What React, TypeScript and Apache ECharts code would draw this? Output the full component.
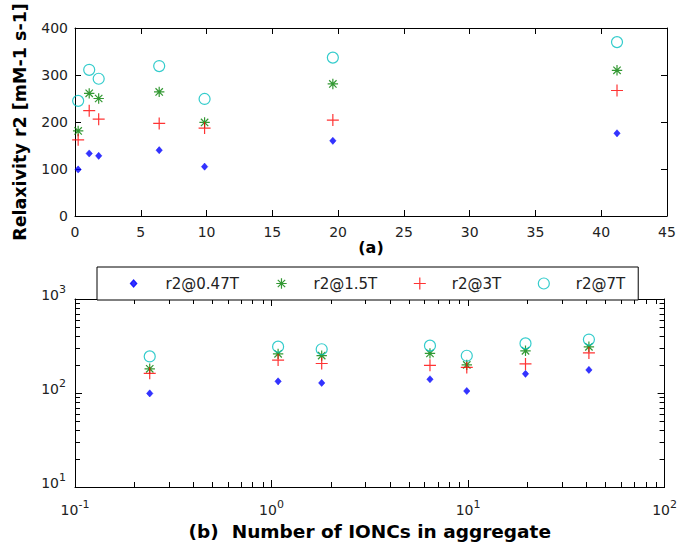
import React, { useEffect, useRef } from 'react';
import * as echarts from 'echarts';

// ---- data ----
const aggregateSizes = [0.24, 1.08, 1.8, 6.4, 9.85, 19.6, 41.2];
const r2At047T = [99, 133, 128, 140, 105, 160, 176];
const r2At15T = [181, 261, 250, 264, 199, 281, 310];
const r2At3T = [162, 224, 206, 197, 187, 204, 267];
const r2At7T = [245, 311, 292, 319, 249, 337, 370];
const seriesNames = ['r2@0.47T', 'r2@1.5T', 'r2@3T', 'r2@7T'];
const logXMinorTicks = [0.2, 0.3, 0.4, 0.5, 0.6, 0.7, 0.8, 0.9, 2, 3, 4, 5, 6, 7, 8, 9, 20, 30, 40, 50, 60, 70, 80, 90];
const logYMinorTicks = [20, 30, 40, 50, 60, 70, 80, 90, 200, 300, 400, 500, 600, 700, 800, 900];

const FONT = 'DejaVu Sans';
const TXT = '#222';

const SYM_DOT = 'path://M0,0M12,12M6,2.4L9.2,6L6,9.6L2.8,6Z';
const SYM_STAR = 'path://M0,0M12,12M6,0.8L6,11.2M0.8,6L11.2,6M2.3,2.3L9.7,9.7M9.7,2.3L2.3,9.7';
const SYM_PLUS = 'path://M6,0L6,12M0,6L12,6';
const SYM_CIRCLE = 'path://M0,0M12,12M11.5,6A5.5,5.5,0,1,1,0.5,6A5.5,5.5,0,1,1,11.5,6Z';

const seriesDefs = [
  { name: seriesNames[0], values: r2At047T, symbol: SYM_DOT, style: { color: '#0000ff', borderColor: '#0000ff', borderWidth: 0.5 } },
  { name: seriesNames[1], values: r2At15T, symbol: SYM_STAR, style: { color: 'rgba(0,0,0,0)', borderColor: '#008000', borderWidth: 1.2 } },
  { name: seriesNames[2], values: r2At3T, symbol: SYM_PLUS, style: { color: 'rgba(0,0,0,0)', borderColor: '#ff0000', borderWidth: 1.2 } },
  { name: seriesNames[3], values: r2At7T, symbol: SYM_CIRCLE, style: { color: 'rgba(0,0,0,0)', borderColor: '#00bfbf', borderWidth: 1.2 } },
];

const axisLine = { show: true, onZero: false, lineStyle: { color: '#000', width: 1 } };
const tickFont = { fontFamily: FONT, fontSize: 14, color: TXT };
const nameFont = { fontFamily: FONT, fontWeight: 'bold', color: '#000' };

const logLabel = (v: number) => `{b|10}{s|${Math.round(Math.log10(v))}}`;
const logRich = {
  b: { fontFamily: FONT, fontSize: 14, color: TXT, lineHeight: 18, verticalAlign: 'bottom' },
  s: { fontFamily: FONT, fontSize: 11, color: TXT, lineHeight: 12, verticalAlign: 'top' },
};

function minorTickRenderer(dir: 'x' | 'y') {
  return (params: any, api: any) => {
    const cs = params.coordSys;
    const p = api.coord([api.value(0), api.value(1)]);
    const L = 5;
    const st = { stroke: '#000', lineWidth: 1 };
    if (dir === 'x') {
      const px = Math.round(p[0]) + 0.5;
      const b = cs.y + cs.height;
      return {
        type: 'group',
        children: [
          { type: 'line', shape: { x1: px, y1: b, x2: px, y2: b - L }, style: st },
          { type: 'line', shape: { x1: px, y1: cs.y, x2: px, y2: cs.y + L }, style: st },
        ],
      };
    }
    const py = Math.round(p[1]) + 0.5;
    const r = cs.x + cs.width;
    return {
      type: 'group',
      children: [
        { type: 'line', shape: { x1: cs.x, y1: py, x2: cs.x + L, y2: py }, style: st },
        { type: 'line', shape: { x1: r, y1: py, x2: r - L, y2: py }, style: st },
      ],
    };
  };
}

export default function App() {
  const ref = useRef<HTMLDivElement>(null);
  useEffect(() => {
    if (!ref.current) return;
    document.body.style.margin = '0';
    const chart = echarts.init(ref.current, null, { renderer: 'svg' });

    const scatterSeries: any[] = [];
    [0, 1].forEach((g) => {
      seriesDefs.forEach((d) => {
        scatterSeries.push({
          type: 'scatter',
          name: d.name,
          xAxisIndex: g * 2,
          yAxisIndex: g * 2,
          data: aggregateSizes.map((x, i) => [x, d.values[i]]),
          symbol: d.symbol,
          symbolSize: 12,
          itemStyle: d.style,
          emphasis: { disabled: true },
          z: 5,
        });
      });
    });

    const option: any = {
      animation: false,
      backgroundColor: '#fff',
      grid: [
        { left: 75, top: 28, width: 592, height: 188, containLabel: false },
        { left: 75, top: 299, width: 592, height: 188, containLabel: false },
      ],
      legend: {
        left: 97,
        top: 267,
        orient: 'horizontal',
        data: seriesNames,
        itemWidth: 12,
        itemHeight: 12,
        itemGap: 36,
        padding: [9, 13, 9, 30],
        borderColor: '#000',
        borderWidth: 1,
        borderRadius: 0,
        backgroundColor: '#fff',
        selectedMode: false,
        itemStyle: { borderWidth: 1.2 },
        textStyle: { fontFamily: FONT, fontSize: 15, color: TXT, padding: [0, 0, 0, 21] },
        z: 10,
      },
      xAxis: [
        {
          gridIndex: 0, type: 'value', min: 0, max: 45, interval: 5, position: 'bottom',
          axisLine, axisTick: { inside: true, length: 6, lineStyle: { color: '#000' } },
          axisLabel: { ...tickFont, margin: 9 }, splitLine: { show: false },
          name: '(a)', nameLocation: 'middle', nameGap: 22, nameTextStyle: { ...nameFont, fontSize: 16 },
        },
        {
          gridIndex: 0, type: 'value', min: 0, max: 45, interval: 5, position: 'top',
          axisLine, axisTick: { inside: true, length: 6, lineStyle: { color: '#000' } },
          axisLabel: { show: false }, splitLine: { show: false },
        },
        {
          gridIndex: 1, type: 'log', logBase: 10, min: 0.1, max: 100, splitNumber: 3, position: 'bottom',
          axisLine, axisTick: { inside: true, length: 7, lineStyle: { color: '#000' } },
          axisLabel: { formatter: logLabel, rich: logRich, margin: 12 }, splitLine: { show: false },
          minorTick: { show: false },
          name: '(b)  Number of IONCs in aggregate', nameLocation: 'middle', nameGap: 35,
          nameTextStyle: { ...nameFont, fontSize: 18.5 },
        },
        {
          gridIndex: 1, type: 'log', logBase: 10, min: 0.1, max: 100, splitNumber: 3, position: 'top',
          axisLine, axisTick: { inside: true, length: 7, lineStyle: { color: '#000' } },
          axisLabel: { show: false }, splitLine: { show: false },
        },
      ],
      yAxis: [
        {
          gridIndex: 0, type: 'value', min: 0, max: 400, interval: 100, position: 'left',
          axisLine, axisTick: { inside: true, length: 6, lineStyle: { color: '#000' } },
          axisLabel: { ...tickFont, margin: 7 }, splitLine: { show: false },
          name: 'Relaxivity r2 [mM-1 s-1]', nameLocation: 'middle', nameGap: 46, nameRotate: 90,
          nameTextStyle: { ...nameFont, fontSize: 17.5 },
        },
        {
          gridIndex: 0, type: 'value', min: 0, max: 400, interval: 100, position: 'right',
          axisLine, axisTick: { inside: true, length: 6, lineStyle: { color: '#000' } },
          axisLabel: { show: false }, splitLine: { show: false },
        },
        {
          gridIndex: 1, type: 'log', logBase: 10, min: 10, max: 1000, splitNumber: 2, position: 'left',
          axisLine, axisTick: { inside: true, length: 7, lineStyle: { color: '#000' } },
          axisLabel: { formatter: logLabel, rich: logRich, margin: 9, padding: [0, 0, 13, 0] },
          splitLine: { show: false },
        },
        {
          gridIndex: 1, type: 'log', logBase: 10, min: 10, max: 1000, splitNumber: 2, position: 'right',
          axisLine, axisTick: { inside: true, length: 7, lineStyle: { color: '#000' } },
          axisLabel: { show: false }, splitLine: { show: false },
        },
      ],
      series: [
        {
          type: 'custom', name: 'xMinor', xAxisIndex: 2, yAxisIndex: 2, silent: true, clip: false, z: 3,
          data: logXMinorTicks.map((v) => [v, 100]),
          renderItem: minorTickRenderer('x'),
        },
        {
          type: 'custom', name: 'yMinor', xAxisIndex: 2, yAxisIndex: 2, silent: true, clip: false, z: 3,
          data: logYMinorTicks.map((v) => [1, v]),
          renderItem: minorTickRenderer('y'),
        },
        ...scatterSeries,
      ],
    };
    chart.setOption(option);
    return () => chart.dispose();
  }, []);

  return (
    <div
      ref={ref}
      style={{ position: 'fixed', left: 0, top: 0, width: 680, height: 549, background: '#fff' }}
    />
  );
}
